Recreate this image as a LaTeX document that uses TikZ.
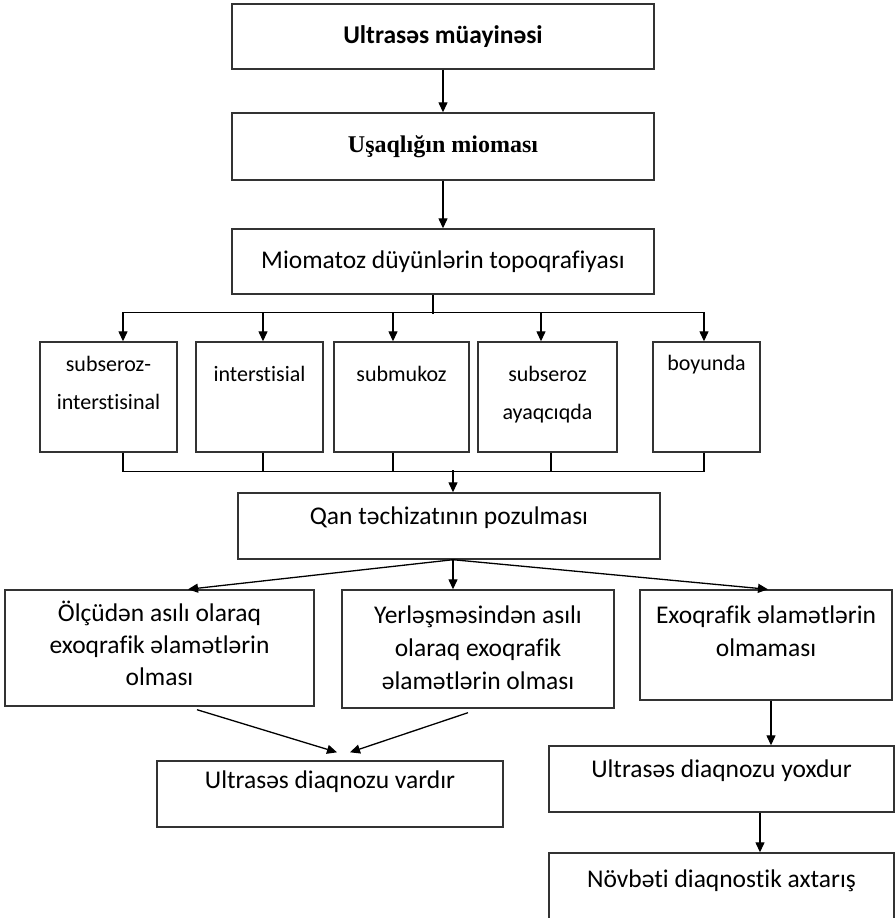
\documentclass[tikz,border=0pt]{standalone}
\usepackage{fontspec}
\setmainfont[Ligatures=NoCommon]{Carlito}
\newfontfamily\timesbold{Liberation Serif}
\usepackage{tikz}
\usetikzlibrary{shapes, arrows.meta, positioning, calc}
\usepackage{xcolor}

\begin{document}
\begin{tikzpicture}[x=1pt, y=-1pt, thick]
        % Define block styles
        \tikzstyle{block} = [rectangle, draw=black!80, line width=1.4pt, inner sep=0pt]
        \tikzstyle{line} = [draw, line width=1.3pt, -{Triangle[length=10pt, width=9pt]}]
        \tikzstyle{wire} = [draw, line width=1.3pt]
        \tikzstyle{txt} = [align=center, inner sep=0pt, font=\fontsize{25.5}{33}\selectfont]
        \tikzstyle{sml} = [align=center, inner sep=0pt, font=\fontsize{22}{38}\selectfont]

        \useasboundingbox (0,0) rectangle (896,918);

        % Define nodes
        \node [block, minimum width=422, minimum height=65, font=\fontsize{25.5}{30}\selectfont\bfseries] (usm) at (443,36.5) {Ultrasəs müayinəsi};
        \node [block, minimum width=422, minimum height=67, font=\fontsize{24}{28}\selectfont\timesbold\bfseries] (mioma) at (443,146.5) {Uşaqlığın mioması};
        \node [block, minimum width=422, minimum height=65, font=\fontsize{25.5}{30}\selectfont] (topo) at (443,261.5) {Miomatoz düyünlərin topoqrafiyası};

        \node [block, minimum width=137, minimum height=110, label={[sml, anchor=north, yshift=-15pt]north:subseroz-\\interstisinal}] (sinal) at (108.5,397) {};
        \node [block, minimum width=127, minimum height=110, label={[sml, anchor=north, yshift=-25pt]north:interstisial}] (inter) at (259.5,397) {};
        \node [block, minimum width=135, minimum height=110, label={[sml, anchor=north, yshift=-25pt]north:submukoz}] (submuk) at (401.5,397) {};
        \node [block, minimum width=139, minimum height=110, label={[sml, anchor=north, yshift=-25pt]north:subseroz\\ayaqcıqda}] (ayaq) at (547.5,397) {};
        \node [block, minimum width=107, minimum height=110, label={[sml, anchor=north, yshift=-14pt]north:boyunda}] (boyun) at (706.5,397) {};

        \node [block, minimum width=422, minimum height=66, label={[txt, anchor=north, yshift=-14.5pt]north:Qan təchizatının pozulması}] (qan) at (449,526) {};

        \node [block, minimum width=309, minimum height=116, label={[txt, anchor=north, yshift=-11pt, font=\fontsize{25.5}{32}\selectfont]north:Ölçüdən asılı olaraq\\exoqrafik əlamətlərin\\olması}] (olcu) at (159.5,648) {};
        \node [block, minimum width=272, minimum height=118, label={[txt, anchor=north, yshift=-16pt]north:Yerləşməsindən asılı\\olaraq exoqrafik\\əlamətlərin olması}] (yer) at (478,649) {};
        \node [block, minimum width=252, minimum height=110, label={[txt, anchor=north, yshift=-16pt]north:Exoqrafik əlamətlərin\\olmaması}] (exo) at (766,645) {};

        \node [block, minimum width=346, minimum height=66, label={[txt, anchor=north, yshift=-10pt]north:Ultrasəs diaqnozu vardır}] (var) at (330,794) {};
        \node [block, minimum width=345, minimum height=66, label={[txt, anchor=north, yshift=-14pt]north:Ultrasəs diaqnozu yoxdur}] (yox) at (721.5,779) {};
        \node [block, minimum width=345, minimum height=107, label={[txt, anchor=north, yshift=-17pt]north:Növbəti diaqnostik axtarış}] (novb) at (721.5,906.5) {};

        % Connect nodes with paths
        \path [line] (usm) -- (mioma);
        \path [line] (mioma) -- (topo);

        \path [wire] ($(topo.south)+(-10,0)$) -- ++(0,19);
        \path [wire] ($(sinal.north)+(14.5,-29)$) -- ($(boyun.north)+(-2.5,-29)$);
        \foreach \n/\dx in {sinal/14.5, inter/3.5, submuk/-8.5, ayaq/-6.5, boyun/-2.5}
            \path [line] ($(\n.north)+(\dx,-29)$) -- ($(\n.north)+(\dx,0)$);

        \foreach \n/\dx in {sinal/14.5, inter/3.5, submuk/-8.5, ayaq/3.5, boyun/-2.5}
            \path [wire] ($(\n.south)+(\dx,0)$) -- ++(0,19);
        \path [wire] ($(sinal.south)+(14.5,19)$) -- ($(boyun.south)+(-2.5,19)$);
        \coordinate (bus) at ($(qan.north)+(4,-22)$);
        \path [line] (bus) -- (bus |- qan.north);

        \coordinate (split) at ($(qan.south)+(4,0)$);
        \path [line] (split) -- ($(olcu.north)+(28.5,0)$);
        \path [line] (split) -- (split |- yer.north);
        \path [line] (split) -- ($(exo.north)+(2,0)$);

        \path [line] ($(olcu.south)+(37.5,3)$) -- ($(var.north)+(7,-8)$);
        \path [line] ($(yer.south)+(-10,4)$) -- ($(var.north)+(20,-8)$);
        \path [line] ($(exo.south)+(5,0)$) -- ($(yox.north)+(49.5,0)$);
        \path [line] ($(yox.south)+(38.5,0)$) -- ($(novb.north)+(38.5,0)$);

\end{tikzpicture}
\end{document}
